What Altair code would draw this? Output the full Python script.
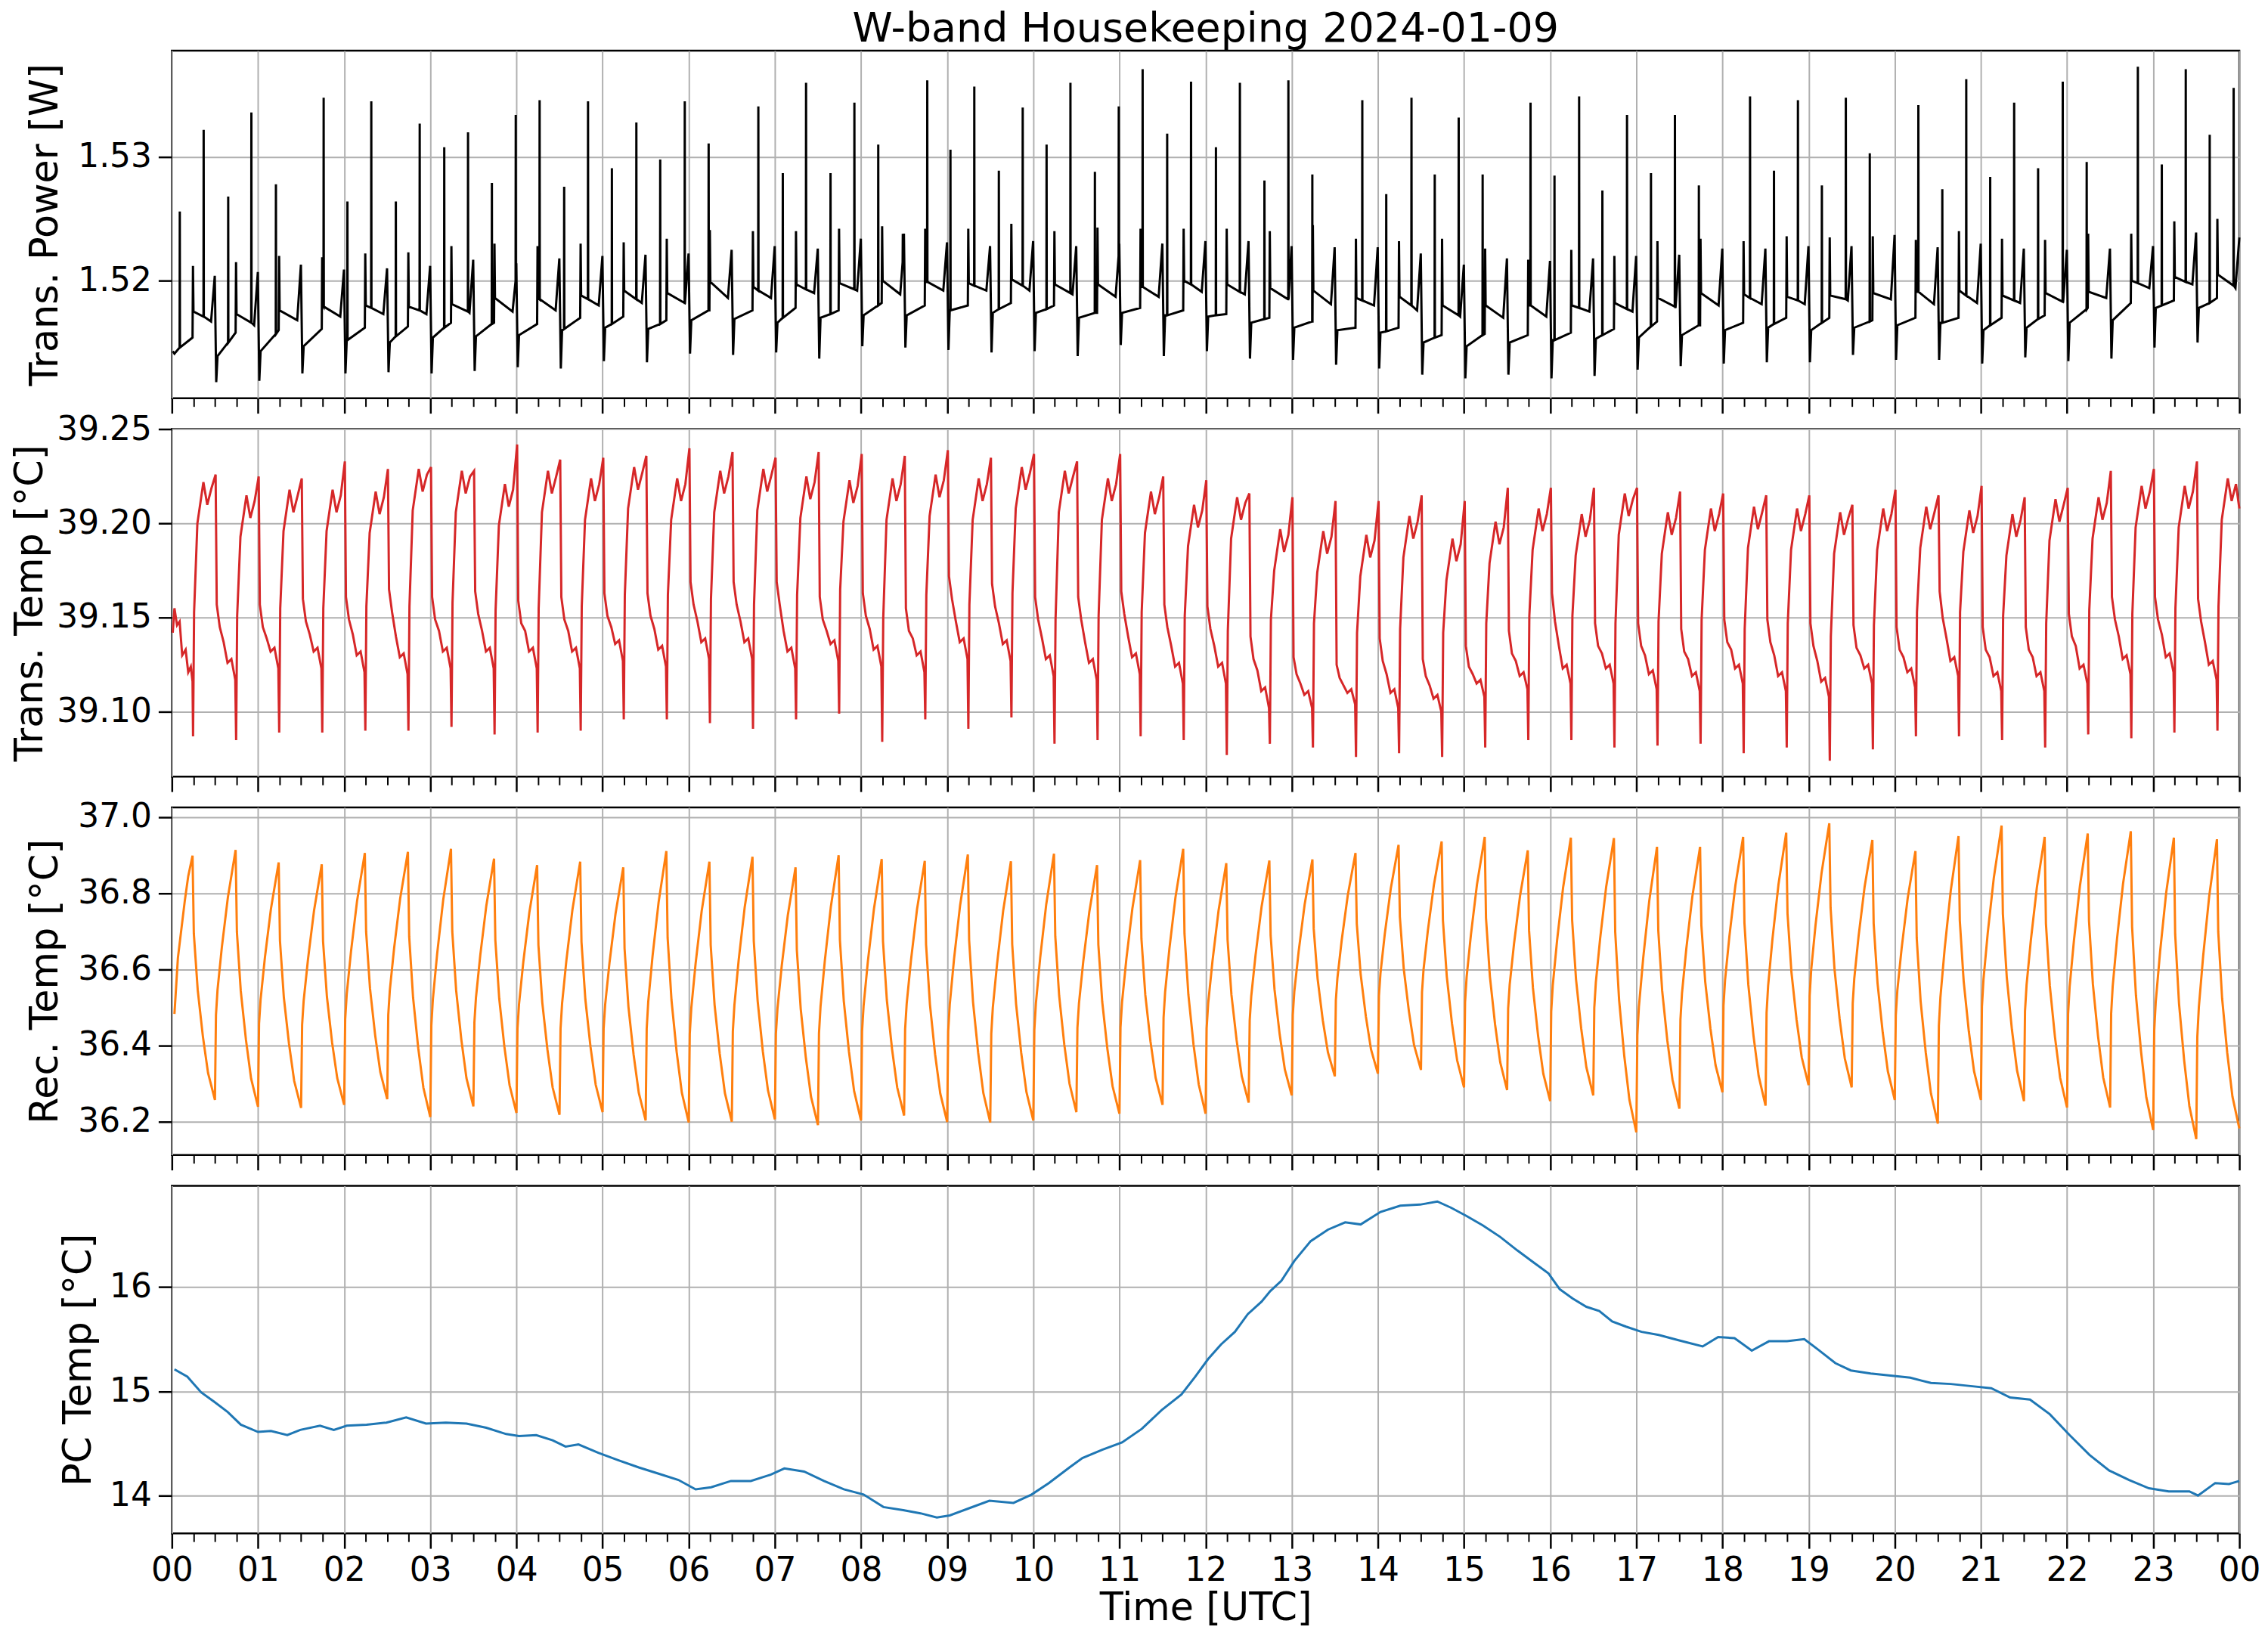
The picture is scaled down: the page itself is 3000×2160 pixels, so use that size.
import altair as alt
import pandas as pd

FONT = "DejaVu Sans"
W, H = 2743, 461

# ---------------- Transmitter power [W] ----------------
# one dip per half hour (cycle k starts at 0.015 + 0.5k)
pw_dip = [1.5118, 1.5119, 1.5125, 1.5125, 1.5126, 1.5125, 1.5127, 1.5130, 1.5129, 1.5135,
          1.5134, 1.5141, 1.5140, 1.5142, 1.5137, 1.5147, 1.5146, 1.5144, 1.5142, 1.5143,
          1.5139, 1.5148, 1.5139, 1.5143, 1.5137, 1.5136, 1.5132, 1.5129, 1.5124, 1.5121,
          1.5124, 1.5121, 1.5123, 1.5128, 1.5131, 1.5133, 1.5134, 1.5134, 1.5140, 1.5136,
          1.5136, 1.5133, 1.5138, 1.5135, 1.5137, 1.5146, 1.5150]
pw_low0 = [1.5141, 1.5139, 1.5143, 1.5147, 1.5152, 1.5150, 1.5154, 1.5155, 1.5156, 1.5160,
           1.5162, 1.5161, 1.5168, 1.5169, 1.5166, 1.5170, 1.5172, 1.5172, 1.5176, 1.5174,
           1.5174, 1.5170, 1.5174, 1.5172, 1.5171, 1.5166, 1.5162, 1.5160, 1.5158, 1.5150,
           1.5147, 1.5150, 1.5152, 1.5153, 1.5154, 1.5156, 1.5160, 1.5162, 1.5160, 1.5162,
           1.5164, 1.5166, 1.5160, 1.5162, 1.5166, 1.5168, 1.5178, 1.5178]
pw_low1 = [1.5154, 1.5158, 1.5160, 1.5161, 1.5162, 1.5163, 1.5166, 1.5166, 1.5165, 1.5170,
           1.5171, 1.5168, 1.5176, 1.5176, 1.5178, 1.5176, 1.5182, 1.5180, 1.5180, 1.5182,
           1.5180, 1.5174, 1.5178, 1.5176, 1.5173, 1.5170, 1.5167, 1.5162, 1.5162, 1.5156,
           1.5157, 1.5156, 1.5158, 1.5161, 1.5167, 1.5164, 1.5166, 1.5170, 1.5170, 1.5168,
           1.5170, 1.5170, 1.5170, 1.5172, 1.5178, 1.5182, 1.5184, 1.5186]
pw_step = [1.5212, 1.5215, 1.5220, 1.5219, 1.5222, 1.5223, 1.5228, 1.5230, 1.5228, 1.5230,
           1.5231, 1.5234, 1.5241, 1.5240, 1.5240, 1.5242, 1.5244, 1.5242, 1.5242, 1.5246,
           1.5240, 1.5243, 1.5242, 1.5242, 1.5242, 1.5240, 1.5245, 1.5234, 1.5232, 1.5234,
           1.5226, 1.5217, 1.5225, 1.5220, 1.5232, 1.5234, 1.5232, 1.5236, 1.5235, 1.5236,
           1.5233, 1.5240, 1.5234, 1.5233, 1.5238, 1.5238, 1.5248, 1.5250]
pw_hi0 = [1.5175, 1.5173, 1.5176, 1.5180, 1.5180, 1.5179, 1.5181, 1.5186, 1.5186, 1.5188,
          1.5192, 1.5190, 1.5199, 1.5195, 1.5197, 1.5198, 1.5200, 1.5199, 1.5198, 1.5201,
          1.5197, 1.5197, 1.5195, 1.5200, 1.5197, 1.5194, 1.5192, 1.5186, 1.5187, 1.5180,
          1.5180, 1.5180, 1.5180, 1.5182, 1.5186, 1.5190, 1.5189, 1.5187, 1.5188, 1.5190,
          1.5191, 1.5192, 1.5188, 1.5190, 1.5191, 1.5200, 1.5203, 1.5205]
pw_hi1 = [1.5167, 1.5164, 1.5168, 1.5171, 1.5173, 1.5173, 1.5174, 1.5175, 1.5176, 1.5180,
          1.5182, 1.5182, 1.5186, 1.5186, 1.5190, 1.5192, 1.5189, 1.5192, 1.5192, 1.5192,
          1.5189, 1.5187, 1.5187, 1.5191, 1.5189, 1.5185, 1.5181, 1.5180, 1.5176, 1.5171,
          1.5170, 1.5171, 1.5175, 1.5175, 1.5178, 1.5180, 1.5181, 1.5181, 1.5184, 1.5185,
          1.5181, 1.5182, 1.5182, 1.5183, 1.5186, 1.5194, 1.5197, 1.5194]
pw_bump = [1.5204, 1.5207, 1.5213, 1.5209, 1.5210, 1.5212, 1.5217, 1.5214, 1.5218, 1.5220,
           1.5221, 1.5222, 1.5225, 1.5228, 1.5226, 1.5234, 1.5238, 1.5231, 1.5228, 1.5232,
           1.5228, 1.5230, 1.5230, 1.5232, 1.5232, 1.5228, 1.5227, 1.5227, 1.5222, 1.5213,
           1.5218, 1.5216, 1.5218, 1.5220, 1.5221, 1.5226, 1.5226, 1.5228, 1.5228, 1.5237,
           1.5227, 1.5230, 1.5226, 1.5225, 1.5226, 1.5228, 1.5239]
pw_start = (0.01, 1.5143)
pw_end = (24.0, 1.5235)
pw_offsets = [0.015, 0.225, 0.230, 0.236, 0.44, 0.483]
# tall narrow spikes: time [h], top, level under the spike
spike_t = [0.092, 0.369, 0.654, 0.923, 1.208, 1.762, 2.038, 2.315, 2.600, 2.877,
           3.162, 3.438, 3.715, 3.992, 4.269, 4.554, 4.831, 5.108, 5.392, 5.669,
           5.954, 6.231, 6.808, 7.092, 7.362, 7.646, 7.923, 8.200, 8.485, 8.769,
           9.038, 9.315, 9.600, 9.877, 10.154, 10.431, 10.715, 10.992, 11.269, 11.554,
           11.831, 12.120, 12.398, 12.683, 12.961, 13.239, 13.819, 14.097, 14.390, 14.660,
           14.938, 15.216, 15.772, 16.050, 16.336, 16.606, 16.892, 17.170, 17.448, 17.726,
           18.320, 18.598, 18.876, 19.154, 19.432, 19.710, 20.274, 20.552, 20.830, 21.108,
           21.386, 21.664, 21.950, 22.228, 22.822, 23.100, 23.378, 23.656, 23.934]
spike_top = [1.5256, 1.5322, 1.5268, 1.5336, 1.5278, 1.5348, 1.5264, 1.5345, 1.5264, 1.5327,
             1.5308, 1.5320, 1.5279, 1.5334, 1.5346, 1.5276, 1.5345, 1.5291, 1.5328, 1.5298,
             1.5345, 1.5311, 1.5341, 1.5287, 1.5360, 1.5287, 1.5344, 1.5310, 1.5238, 1.5362,
             1.5306, 1.5357, 1.5289, 1.5340, 1.5310, 1.5360, 1.5288, 1.5341, 1.5371, 1.5319,
             1.5361, 1.5308, 1.5360, 1.5281, 1.5362, 1.5286, 1.5346, 1.5270, 1.5348, 1.5286,
             1.5332, 1.5286, 1.5344, 1.5285, 1.5349, 1.5273, 1.5334, 1.5287, 1.5334, 1.5277,
             1.5349, 1.5289, 1.5346, 1.5277, 1.5348, 1.5303, 1.5342, 1.5274, 1.5363, 1.5284,
             1.5344, 1.5291, 1.5361, 1.5296, 1.5373, 1.5294, 1.5371, 1.5318, 1.5356]
spike_base = [1.5146, 1.5171, 1.5150, 1.5166, 1.5157, 1.5179, 1.5152, 1.5178, 1.5155, 1.5176,
              1.5162, 1.5175, 1.5165, 1.5200, 1.5185, 1.5161, 1.5185, 1.5165, 1.5185, 1.5165,
              1.5182, 1.5176, 1.5192, 1.5170, 1.5193, 1.5173, 1.5193, 1.5180, 1.5215, 1.5199,
              1.5176, 1.5196, 1.5177, 1.5196, 1.5177, 1.5190, 1.5174, 1.5220, 1.5195, 1.5172,
              1.5197, 1.5172, 1.5191, 1.5169, 1.5185, 1.5167, 1.5184, 1.5159, 1.5180, 1.5154,
              1.5172, 1.5156, 1.5180, 1.5152, 1.5178, 1.5156, 1.5177, 1.5163, 1.5179, 1.5164,
              1.5186, 1.5165, 1.5184, 1.5166, 1.5185, 1.5167, 1.5191, 1.5166, 1.5188, 1.5164,
              1.5184, 1.5169, 1.5183, 1.5177, 1.5198, 1.5180, 1.5199, 1.5182, 1.5196]

# ---------------- Transmitter temperature [degC] ----------------
red_start_t = [0.01, 0.03, 0.06, 0.09, 0.12, 0.16, 0.19, 0.22, 0.24]
red_start_v = [39.142, 39.155, 39.146, 39.148, 39.130, 39.133, 39.121, 39.124, 39.116]
red_offsets = [0, 0.012, 0.05, 0.12, 0.165, 0.215, 0.262, 0.275, 0.31, 0.355, 0.40, 0.445, 0.49]
red_rows = [
    [39.087, 39.153, 39.200, 39.222, 39.210, 39.219, 39.226, 39.157, 39.145, 39.137, 39.126, 39.128, 39.117],
    [39.085, 39.151, 39.193, 39.215, 39.203, 39.212, 39.225, 39.157, 39.145, 39.139, 39.132, 39.134, 39.123],
    [39.089, 39.155, 39.196, 39.218, 39.206, 39.215, 39.224, 39.160, 39.148, 39.141, 39.132, 39.134, 39.123],
    [39.089, 39.155, 39.196, 39.218, 39.206, 39.215, 39.233, 39.161, 39.149, 39.141, 39.130, 39.132, 39.121],
    [39.090, 39.156, 39.195, 39.217, 39.205, 39.214, 39.229, 39.165, 39.153, 39.140, 39.129, 39.131, 39.120],
    [39.090, 39.156, 39.207, 39.229, 39.217, 39.226, 39.230, 39.161, 39.149, 39.143, 39.132, 39.134, 39.123],
    [39.092, 39.158, 39.206, 39.228, 39.216, 39.225, 39.228, 39.164, 39.152, 39.143, 39.132, 39.134, 39.123],
    [39.088, 39.154, 39.199, 39.221, 39.209, 39.218, 39.242, 39.159, 39.147, 39.143, 39.132, 39.134, 39.123],
    [39.089, 39.155, 39.206, 39.228, 39.216, 39.225, 39.234, 39.161, 39.149, 39.143, 39.132, 39.134, 39.123],
    [39.090, 39.156, 39.202, 39.224, 39.212, 39.221, 39.235, 39.163, 39.151, 39.145, 39.136, 39.138, 39.127],
    [39.096, 39.162, 39.208, 39.230, 39.218, 39.227, 39.236, 39.163, 39.151, 39.144, 39.133, 39.135, 39.124],
    [39.096, 39.162, 39.202, 39.224, 39.212, 39.221, 39.240, 39.169, 39.157, 39.148, 39.137, 39.139, 39.128],
    [39.094, 39.160, 39.206, 39.228, 39.216, 39.225, 39.238, 39.169, 39.157, 39.148, 39.137, 39.139, 39.128],
    [39.091, 39.157, 39.207, 39.229, 39.217, 39.226, 39.235, 39.169, 39.157, 39.143, 39.132, 39.134, 39.123],
    [39.096, 39.162, 39.203, 39.225, 39.213, 39.222, 39.238, 39.161, 39.149, 39.143, 39.136, 39.138, 39.127],
    [39.099, 39.165, 39.201, 39.223, 39.211, 39.220, 39.237, 39.163, 39.151, 39.144, 39.133, 39.135, 39.124],
    [39.084, 39.150, 39.202, 39.224, 39.212, 39.221, 39.236, 39.155, 39.143, 39.139, 39.130, 39.132, 39.121],
    [39.096, 39.162, 39.204, 39.226, 39.214, 39.223, 39.239, 39.172, 39.160, 39.148, 39.137, 39.139, 39.128],
    [39.091, 39.157, 39.202, 39.224, 39.212, 39.221, 39.235, 39.168, 39.156, 39.147, 39.136, 39.138, 39.127],
    [39.097, 39.163, 39.208, 39.230, 39.218, 39.227, 39.237, 39.161, 39.149, 39.139, 39.128, 39.130, 39.119],
    [39.083, 39.149, 39.206, 39.228, 39.216, 39.225, 39.233, 39.161, 39.149, 39.137, 39.126, 39.128, 39.117],
    [39.085, 39.151, 39.202, 39.224, 39.212, 39.221, 39.237, 39.164, 39.152, 39.140, 39.129, 39.131, 39.120],
    [39.087, 39.153, 39.195, 39.217, 39.205, 39.214, 39.225, 39.157, 39.145, 39.135, 39.124, 39.126, 39.115],
    [39.085, 39.151, 39.188, 39.210, 39.198, 39.207, 39.223, 39.156, 39.144, 39.135, 39.124, 39.126, 39.115],
    [39.077, 39.143, 39.192, 39.214, 39.202, 39.211, 39.216, 39.140, 39.128, 39.122, 39.111, 39.113, 39.102],
    [39.083, 39.149, 39.175, 39.197, 39.185, 39.194, 39.214, 39.129, 39.120, 39.115, 39.109, 39.111, 39.102],
    [39.081, 39.147, 39.174, 39.196, 39.184, 39.193, 39.212, 39.125, 39.118, 39.114, 39.110, 39.112, 39.104],
    [39.076, 39.142, 39.172, 39.194, 39.182, 39.191, 39.212, 39.139, 39.127, 39.120, 39.110, 39.112, 39.102],
    [39.078, 39.144, 39.182, 39.204, 39.192, 39.201, 39.215, 39.128, 39.119, 39.114, 39.107, 39.109, 39.100],
    [39.076, 39.142, 39.170, 39.192, 39.180, 39.189, 39.212, 39.135, 39.124, 39.120, 39.115, 39.117, 39.108],
    [39.081, 39.147, 39.179, 39.201, 39.189, 39.198, 39.219, 39.143, 39.131, 39.127, 39.119, 39.121, 39.112],
    [39.085, 39.151, 39.186, 39.208, 39.196, 39.205, 39.219, 39.163, 39.148, 39.135, 39.123, 39.125, 39.115],
    [39.085, 39.151, 39.183, 39.205, 39.193, 39.202, 39.219, 39.147, 39.135, 39.131, 39.123, 39.125, 39.115],
    [39.081, 39.147, 39.194, 39.216, 39.204, 39.213, 39.219, 39.147, 39.135, 39.130, 39.120, 39.122, 39.112],
    [39.082, 39.148, 39.184, 39.206, 39.194, 39.203, 39.217, 39.144, 39.132, 39.128, 39.119, 39.121, 39.111],
    [39.083, 39.149, 39.186, 39.208, 39.196, 39.205, 39.216, 39.149, 39.137, 39.133, 39.123, 39.125, 39.115],
    [39.078, 39.144, 39.187, 39.209, 39.197, 39.206, 39.215, 39.149, 39.137, 39.130, 39.119, 39.121, 39.111],
    [39.081, 39.147, 39.186, 39.208, 39.196, 39.205, 39.215, 39.147, 39.135, 39.127, 39.116, 39.118, 39.108],
    [39.074, 39.140, 39.184, 39.206, 39.194, 39.203, 39.210, 39.146, 39.134, 39.130, 39.123, 39.125, 39.115],
    [39.080, 39.146, 39.186, 39.208, 39.196, 39.205, 39.218, 39.145, 39.133, 39.129, 39.121, 39.123, 39.113],
    [39.087, 39.153, 39.187, 39.209, 39.197, 39.206, 39.215, 39.164, 39.150, 39.139, 39.127, 39.129, 39.119],
    [39.087, 39.153, 39.185, 39.207, 39.195, 39.204, 39.220, 39.145, 39.133, 39.129, 39.119, 39.121, 39.111],
    [39.085, 39.151, 39.183, 39.205, 39.193, 39.202, 39.214, 39.145, 39.133, 39.129, 39.119, 39.121, 39.111],
    [39.081, 39.147, 39.191, 39.213, 39.201, 39.210, 39.219, 39.152, 39.140, 39.135, 39.123, 39.125, 39.115],
    [39.088, 39.154, 39.192, 39.214, 39.202, 39.211, 39.228, 39.161, 39.149, 39.140, 39.128, 39.130, 39.120],
    [39.086, 39.152, 39.198, 39.220, 39.208, 39.217, 39.229, 39.161, 39.149, 39.141, 39.129, 39.131, 39.121],
    [39.089, 39.155, 39.198, 39.220, 39.208, 39.217, 39.233, 39.160, 39.148, 39.137, 39.125, 39.127, 39.117],
    [39.090, 39.156, 39.202, 39.224, 39.212, 39.221],
]
red_end = (24.0, 39.208)

# ---------------- Receiver temperature [degC] ----------------
rec_start_t = [0.03, 0.07, 0.15, 0.19, 0.24, 0.255, 0.30, 0.36, 0.42]
rec_start_v = [36.483, 36.630, 36.780, 36.845, 36.899, 36.694, 36.546, 36.424, 36.328]
rec_offsets = [0, 0.012, 0.03, 0.08, 0.15, 0.24, 0.255, 0.30, 0.36, 0.42]
rec_rows = [
    [36.257, 36.480, 36.546, 36.658, 36.789, 36.914, 36.698, 36.543, 36.415, 36.313],
    [36.239, 36.457, 36.521, 36.631, 36.759, 36.881, 36.675, 36.526, 36.404, 36.307],
    [36.236, 36.454, 36.518, 36.626, 36.754, 36.876, 36.674, 36.528, 36.408, 36.314],
    [36.244, 36.469, 36.535, 36.648, 36.780, 36.906, 36.699, 36.550, 36.427, 36.330],
    [36.259, 36.480, 36.545, 36.656, 36.786, 36.909, 36.686, 36.526, 36.393, 36.289],
    [36.212, 36.452, 36.522, 36.642, 36.783, 36.917, 36.700, 36.545, 36.416, 36.314],
    [36.240, 36.461, 36.526, 36.637, 36.767, 36.891, 36.677, 36.524, 36.397, 36.296],
    [36.223, 36.444, 36.509, 36.620, 36.750, 36.874, 36.664, 36.513, 36.389, 36.290],
    [36.218, 36.444, 36.511, 36.624, 36.757, 36.883, 36.672, 36.521, 36.396, 36.297],
    [36.225, 36.444, 36.508, 36.617, 36.746, 36.868, 36.655, 36.502, 36.376, 36.276],
    [36.203, 36.444, 36.515, 36.635, 36.776, 36.911, 36.683, 36.519, 36.383, 36.276],
    [36.198, 36.431, 36.499, 36.616, 36.753, 36.883, 36.664, 36.507, 36.378, 36.275],
    [36.200, 36.437, 36.506, 36.625, 36.764, 36.896, 36.675, 36.517, 36.385, 36.282],
    [36.206, 36.431, 36.497, 36.610, 36.742, 36.868, 36.651, 36.496, 36.367, 36.265],
    [36.191, 36.432, 36.503, 36.623, 36.765, 36.900, 36.677, 36.517, 36.384, 36.280],
    [36.203, 36.437, 36.505, 36.622, 36.759, 36.890, 36.674, 36.519, 36.391, 36.290],
    [36.216, 36.443, 36.510, 36.624, 36.758, 36.885, 36.665, 36.508, 36.377, 36.274],
    [36.199, 36.438, 36.508, 36.628, 36.768, 36.902, 36.677, 36.515, 36.381, 36.275],
    [36.198, 36.431, 36.500, 36.616, 36.754, 36.884, 36.666, 36.509, 36.380, 36.278],
    [36.203, 36.441, 36.511, 36.631, 36.771, 36.904, 36.687, 36.531, 36.402, 36.300],
    [36.225, 36.446, 36.511, 36.621, 36.751, 36.874, 36.665, 36.515, 36.391, 36.293],
    [36.221, 36.447, 36.514, 36.627, 36.760, 36.887, 36.681, 36.533, 36.411, 36.315],
    [36.244, 36.473, 36.540, 36.655, 36.789, 36.917, 36.694, 36.534, 36.402, 36.298],
    [36.221, 36.445, 36.511, 36.622, 36.754, 36.879, 36.678, 36.533, 36.414, 36.319],
    [36.250, 36.466, 36.530, 36.638, 36.765, 36.886, 36.689, 36.547, 36.429, 36.337],
    [36.269, 36.480, 36.542, 36.647, 36.771, 36.889, 36.707, 36.576, 36.467, 36.382],
    [36.319, 36.519, 36.577, 36.677, 36.794, 36.906, 36.720, 36.587, 36.477, 36.390],
    [36.326, 36.530, 36.590, 36.693, 36.813, 36.927, 36.738, 36.602, 36.490, 36.401],
    [36.336, 36.540, 36.600, 36.702, 36.822, 36.936, 36.729, 36.581, 36.458, 36.361],
    [36.290, 36.514, 36.580, 36.691, 36.823, 36.948, 36.735, 36.582, 36.456, 36.356],
    [36.283, 36.497, 36.560, 36.667, 36.793, 36.913, 36.702, 36.551, 36.425, 36.326],
    [36.254, 36.489, 36.558, 36.676, 36.815, 36.946, 36.729, 36.574, 36.445, 36.343],
    [36.269, 36.499, 36.566, 36.681, 36.817, 36.945, 36.698, 36.520, 36.373, 36.257],
    [36.172, 36.427, 36.502, 36.630, 36.780, 36.922, 36.702, 36.544, 36.413, 36.310],
    [36.234, 36.468, 36.537, 36.654, 36.791, 36.922, 36.716, 36.567, 36.445, 36.348],
    [36.277, 36.505, 36.572, 36.686, 36.821, 36.948, 36.722, 36.560, 36.426, 36.320],
    [36.242, 36.486, 36.557, 36.679, 36.823, 36.959, 36.747, 36.594, 36.468, 36.369],
    [36.296, 36.530, 36.599, 36.716, 36.853, 36.984, 36.762, 36.602, 36.470, 36.366],
    [36.290, 36.511, 36.576, 36.687, 36.817, 36.940, 36.721, 36.564, 36.435, 36.332],
    [36.257, 36.479, 36.545, 36.656, 36.787, 36.911, 36.682, 36.517, 36.381, 36.274],
    [36.195, 36.452, 36.527, 36.656, 36.807, 36.950, 36.728, 36.569, 36.437, 36.333],
    [36.257, 36.502, 36.574, 36.697, 36.841, 36.978, 36.746, 36.580, 36.442, 36.334],
    [36.254, 36.490, 36.559, 36.677, 36.816, 36.948, 36.720, 36.557, 36.422, 36.315],
    [36.237, 36.482, 36.554, 36.676, 36.820, 36.957, 36.727, 36.561, 36.424, 36.316],
    [36.237, 36.484, 36.556, 36.680, 36.825, 36.963, 36.712, 36.531, 36.382, 36.264],
    [36.178, 36.439, 36.516, 36.646, 36.800, 36.946, 36.693, 36.510, 36.360, 36.241],
    [36.154, 36.422, 36.501, 36.635, 36.792, 36.942, 36.699, 36.524, 36.380, 36.266],
]
rec_end = (24.0, 36.182)

# ---------------- PC temperature [degC] ----------------
pc_t = [0.03, 0.18, 0.34, 0.49, 0.65, 0.80, 1.0, 1.15, 1.34, 1.49,
        1.72, 1.88, 2.03, 2.26, 2.49, 2.72, 2.95, 3.18, 3.42, 3.65,
        3.88, 4.03, 4.23, 4.42, 4.57, 4.72, 4.95, 5.18, 5.42, 5.65,
        5.88, 6.08, 6.26, 6.49, 6.72, 6.95, 7.11, 7.34, 7.57, 7.80,
        8.03, 8.26, 8.49, 8.69, 8.88, 9.03, 9.26, 9.49, 9.77, 9.98,
        10.18, 10.42, 10.57, 10.80, 11.03, 11.26, 11.49, 11.72, 11.88, 12.03,
        12.18, 12.34, 12.49, 12.65, 12.75, 12.88, 13.03, 13.22, 13.42, 13.62,
        13.80, 14.03, 14.26, 14.49, 14.69, 14.85, 15.03, 15.22, 15.42, 15.62,
        15.80, 15.98, 16.11, 16.26, 16.42, 16.57, 16.72, 16.88, 17.06, 17.26,
        17.49, 17.77, 17.95, 18.14, 18.34, 18.54, 18.75, 18.95, 19.11, 19.31,
        19.49, 19.72, 19.95, 20.18, 20.42, 20.65, 20.88, 21.12, 21.34, 21.57,
        21.80, 22.03, 22.26, 22.49, 22.72, 22.95, 23.18, 23.42, 23.52, 23.72,
        23.88, 24.0]
pc_v = [15.21, 15.14, 14.99, 14.90, 14.80, 14.68, 14.61, 14.62, 14.58, 14.63,
        14.67, 14.63, 14.67, 14.68, 14.70, 14.75, 14.69, 14.70, 14.69, 14.65,
        14.59, 14.57, 14.58, 14.53, 14.47, 14.49, 14.41, 14.34, 14.27, 14.21,
        14.15, 14.06, 14.08, 14.14, 14.14, 14.20, 14.26, 14.23, 14.14, 14.06,
        14.01, 13.89, 13.86, 13.83, 13.79, 13.81, 13.88, 13.95, 13.93, 14.01,
        14.12, 14.27, 14.36, 14.44, 14.51, 14.64, 14.82, 14.97, 15.14, 15.31,
        15.45, 15.57, 15.74, 15.86, 15.96, 16.06, 16.25, 16.44, 16.55, 16.62,
        16.60, 16.72, 16.78, 16.79, 16.82, 16.76, 16.68, 16.59, 16.48, 16.35,
        16.24, 16.13, 15.98, 15.89, 15.81, 15.77, 15.67, 15.62, 15.57, 15.54,
        15.49, 15.43, 15.52, 15.51, 15.39, 15.48, 15.48, 15.50, 15.40, 15.27,
        15.20, 15.17, 15.15, 15.13, 15.08, 15.07, 15.05, 15.03, 14.94, 14.92,
        14.78, 14.58, 14.39, 14.24, 14.15, 14.07, 14.04, 14.04, 14.00, 14.12,
        14.11, 14.14]

hour_ticks = list(range(25))
minor_ticks = [h + q for h in range(24) for q in (0.25, 0.5, 0.75)]

# ---------------- assemble tables ----------------
pw_pts = [pw_start]
for k in range(48):
    c = 0.015 + 0.5 * k
    if k >= 1:
        pw_pts.append((c, pw_dip[k - 1]))
    vals = [pw_low0[k], pw_low1[k], pw_step[k], pw_hi0[k], pw_hi1[k]]
    if k < len(pw_bump):
        vals.append(pw_bump[k])
    for o, v in zip(pw_offsets, vals):
        pw_pts.append((c + o, v))
pw_pts.append(pw_end)
for t, top, base in zip(spike_t, spike_top, spike_base):
    pw_pts += [(t - 0.002, base), (t, top), (t + 0.002, base)]
pw_df = pd.DataFrame(sorted(pw_pts), columns=["t", "v"])

red_pts = list(zip(red_start_t, red_start_v))
for k, row in enumerate(red_rows):
    s = 0.246 + 0.5 * k
    for o, v in zip(red_offsets, row):
        red_pts.append((s + o, v))
red_pts.append(red_end)
red_df = pd.DataFrame(sorted(red_pts), columns=["t", "v"])

rec_pts = list(zip(rec_start_t, rec_start_v))
for k, row in enumerate(rec_rows, start=1):
    m = 0.5 * k
    for o, v in zip(rec_offsets, row):
        rec_pts.append((m + o, v))
rec_pts.append(rec_end)
rec_df = pd.DataFrame(sorted(rec_pts), columns=["t", "v"])

pc_df = pd.DataFrame({"t": pc_t, "v": pc_v})
minor_df = pd.DataFrame({"t": minor_ticks})

GRID = "#b0b0b0"
LABEL_EXPR = "datum.value == 24 ? '00' : (datum.value < 10 ? '0' + datum.value : '' + datum.value)"


def panel(df, color, ytitle, dom, yvals, yfmt, tpad, bottom=False):
    xscale = alt.Scale(domain=[0, 24], nice=False, zero=False)
    if bottom:
        xaxis = alt.Axis(values=hour_ticks, grid=True, gridColor=GRID, gridWidth=2,
                         tickSize=20, tickWidth=2.5, tickColor="black", domain=False,
                         labels=True, labelExpr=LABEL_EXPR, labelFontSize=44,
                         labelColor="black", labelPadding=8, labelFlush=False,
                         labelOverlap=False, labelFont=FONT, title="Time [UTC]",
                         titleFontSize=51, titleFont=FONT, titleFontWeight="normal",
                         titleColor="black", titlePadding=3)
    else:
        xaxis = alt.Axis(values=hour_ticks, grid=True, gridColor=GRID, gridWidth=2,
                         tickSize=20, tickWidth=2.5, tickColor="black", domain=False,
                         labels=False, title=None)
    yaxis = alt.Axis(values=yvals, format=yfmt, grid=True, gridColor=GRID, gridWidth=2,
                     tickSize=18, tickWidth=2.5, tickColor="black", domain=False,
                     labelFontSize=44, labelColor="black", labelPadding=9, labelFont=FONT,
                     title=ytitle, titleFontSize=51, titleFont=FONT, titleFontWeight="normal",
                     titleColor="black", titlePadding=tpad)
    line = alt.Chart(df).mark_line(color=color, strokeWidth=3).encode(
        x=alt.X("t:Q", scale=xscale, axis=xaxis),
        y=alt.Y("v:Q", scale=alt.Scale(domain=dom, nice=False, zero=False), axis=yaxis),
    )
    minor = alt.Chart(minor_df).mark_rule(opacity=0).encode(
        x=alt.X("t:Q", scale=xscale,
                axis=alt.Axis(values=minor_ticks, orient="bottom", grid=False, labels=False,
                              domain=False, tickSize=11, tickWidth=2, tickColor="black",
                              title=None)),
    )
    return alt.layer(line, minor).resolve_axis(x="independent").properties(width=W, height=H)


p1 = panel(pw_df, "#000000", "Trans. Power [W]", [1.5105, 1.5386], [1.52, 1.53], ".2f", 16)
p2 = panel(red_df, "#d62728", "Trans. Temp [°C]", [39.0656, 39.2502],
           [39.10, 39.15, 39.20, 39.25], ".2f", 8)
p3 = panel(rec_df, "#ff7f0e", "Rec. Temp [°C]", [36.1125, 37.0255],
           [36.2, 36.4, 36.6, 36.8, 37.0], ".1f", 16)
p4 = panel(pc_df, "#1f77b4", "PC Temp [°C]", [13.638, 16.97], [14, 15, 16], "d", 14,
           bottom=True)

chart = alt.vconcat(
    p1, p2, p3, p4, spacing=41, bounds="flush",
    title=alt.TitleParams("W-band Housekeeping 2024-01-09", fontSize=54, font=FONT,
                          fontWeight="normal", color="black", anchor="middle",
                          frame="group", offset=0),
).properties(
    padding={"left": 5, "top": 0, "right": 0, "bottom": 0},
    background="white",
).configure(font=FONT).configure_view(stroke="black", strokeWidth=2.5)

chart.save("out.html", embed_options={"renderer": "svg", "actions": False})
